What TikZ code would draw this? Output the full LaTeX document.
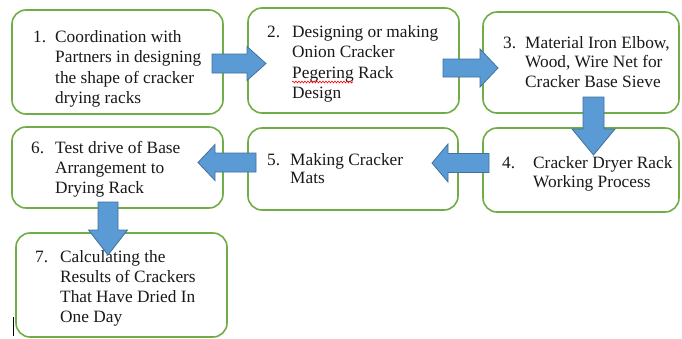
\documentclass[tikz,border=0pt]{standalone}
\usepackage{fontspec}
\setmainfont{Liberation Serif}
\newfontfamily\timesf{Liberation Serif}
\usetikzlibrary{decorations.pathmorphing}
\definecolor{boxgreen}{HTML}{70AD47}
\definecolor{arrowfill}{HTML}{5B9BD5}
\definecolor{arrowedge}{HTML}{41719C}
\tikzset{
  stepbox/.style={draw=boxgreen, line width=1.6pt, rounded corners=14pt, fill=white,
    inner sep=0pt, outer sep=0pt, anchor=north west},
  blockarrow/.style={fill=arrowfill, draw=arrowedge, line width=0.8pt, line join=miter},
  numlabel/.style={anchor=base west, inner sep=0pt, text=black!90, font=\timesf\fontsize{17.3}{20.5}\selectfont},
  steplabel/.style={anchor=base west, inner sep=0pt, text=black!90, font=\timesf\fontsize{17.3}{#1}\selectfont},
  steplabel/.default=20.6,
}
\newcommand{\harrow}[6]{% tail x, head back x, tip x, centre y, shaft half, head half
  \path[blockarrow] (#1,#4-#5) -- (#2,#4-#5) -- (#2,#4-#6) -- (#3,#4) -- (#2,#4+#6) -- (#2,#4+#5) -- (#1,#4+#5) -- cycle;}
\newcommand{\varrow}[6]{% centre x, tail y, head back y, tip y, shaft half, head half
  \path[blockarrow] (#1-#5,#2) -- (#1+#5,#2) -- (#1+#5,#3) -- (#1+#6,#3) -- (#1,#4) -- (#1-#6,#3) -- (#1-#5,#3) -- cycle;}
\begin{document}
\begin{tikzpicture}[x=1pt,y=-1pt]
\useasboundingbox[fill=white] (0,0) rectangle (682,338);
% boxes
\node[stepbox, minimum width=211pt, minimum height=104pt] (b1) at (12,10) {};
\node[stepbox, minimum width=211pt, minimum height=105pt] (b2) at (248,8) {};
\node[stepbox, minimum width=196pt, minimum height=101pt] (b3) at (483,12) {};
\node[stepbox, minimum width=196pt, minimum height=84pt] (b4) at (483,128) {};
\node[stepbox, minimum width=210pt, minimum height=82pt] (b5) at (248,128) {};
\node[stepbox, minimum width=211pt, minimum height=81pt] (b6) at (12,127) {};
\node[stepbox, minimum width=211pt, minimum height=104pt] (b7) at (16,233) {};
% texts
\node[numlabel] (n1) at (33,42) {1.};
\node[steplabel] (t1) at (55,42) {\parbox[t]{180pt}{Coordination with\\Partners in designing\\the shape of cracker\\drying racks}};
\node[numlabel] (n2) at (267,37) {2.};
\node[steplabel] (t2) at (292,37) {\parbox[t]{180pt}{Designing or making\\Onion Cracker\\Pegering Rack\\Design}};
\node[numlabel] (n3) at (503,48) {3.};
\node[steplabel=19.6] (t3) at (525,48) {\parbox[t]{180pt}{Material Iron Elbow,\\Wood, Wire Net for\\Cracker Base Sieve}};
\node[numlabel] (n4) at (502,168) {4.};
\node[steplabel=19.2] (t4) at (533,168) {\parbox[t]{180pt}{Cracker Dryer Rack\\Working Process}};
\node[numlabel] (n5) at (267,165) {5.};
\node[steplabel=18.6] (t5) at (290,165) {\parbox[t]{180pt}{Making Cracker\\Mats}};
\node[numlabel] (n6) at (31,153) {6.};
\node[steplabel=20] (t6) at (55,153) {\parbox[t]{180pt}{Test drive of Base\\Arrangement to\\Drying Rack}};
\node[numlabel] (n7) at (35,262) {7.};
\node[steplabel=20.2] (t7) at (60,262) {\parbox[t]{180pt}{Calculating the\\Results of Crackers\\That Have Dried In\\One Day}};
% spell-check underline and cursor
\draw[red, line width=0.6pt, decorate, decoration={snake, amplitude=0.9pt, segment length=3pt}] (292,82) -- (353,82);
\draw[black, line width=0.9pt] (13,317) -- (13,336);
% block arrows
\harrow{212}{247}{266}{63.5}{9.5}{17}
\harrow{443}{480}{498}{68}{9}{19}
\varrow{593.5}{97}{129}{155}{10.5}{21.5}
\harrow{489}{448}{432}{163}{9.5}{19}
\harrow{256}{215}{198}{162.5}{9.5}{18}
\varrow{108}{202}{230}{255}{10}{19.5}
\end{tikzpicture}
\end{document}
